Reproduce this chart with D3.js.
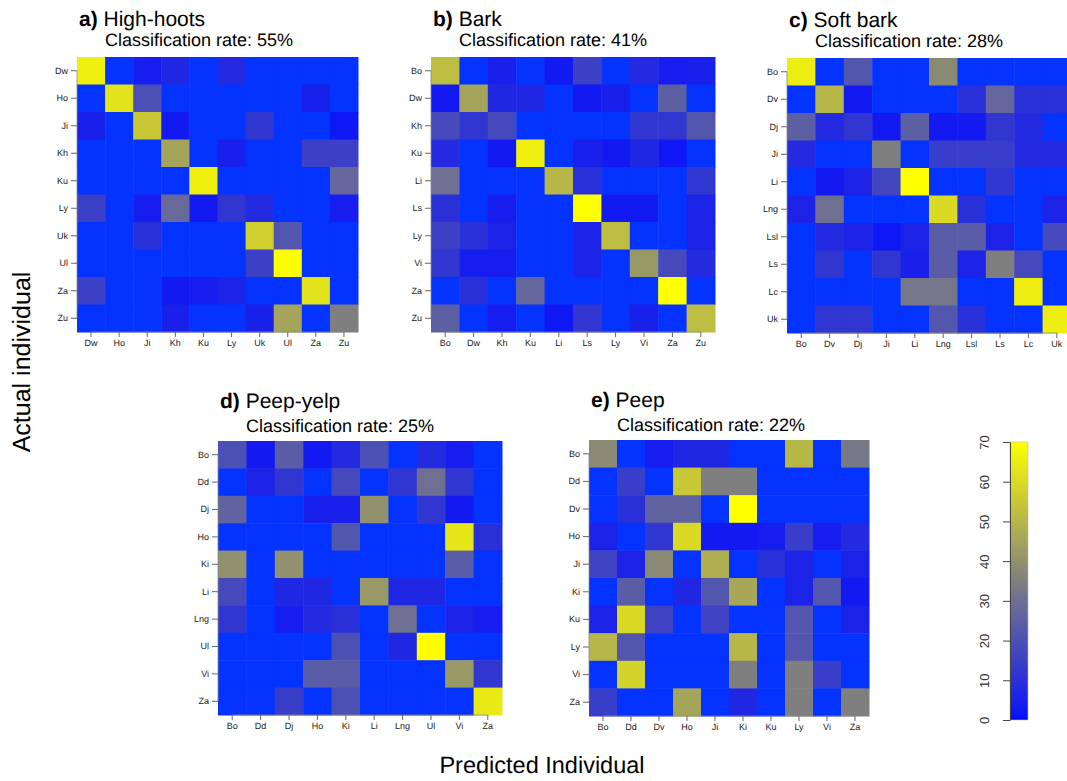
<!DOCTYPE html>
<html>
<head>
<meta charset="utf-8">
<script src="https://cdn.jsdelivr.net/npm/d3@7"></script>
<style>
  html, body { margin: 0; padding: 0; background: #fff; }
  svg { display: block; font-family: "Liberation Sans", Arial, Helvetica, sans-serif; }
  text { text-rendering: geometricPrecision; }
</style>
</head>
<body>
<svg id="chart" width="1067" height="781"></svg>
<script>
// ---------------- DATA ----------------
const colorTicks = [0, 10, 20, 30, 40, 50, 60, 70];

const labelsA = ["Dw","Ho","Ji","Kh","Ku","Ly","Uk","Ul","Za","Zu"];
const valuesA = [
  [66, 0, 4, 7, 0, 8, 0, 0, 0, 0],
  [0, 62, 20, 0, 0, 0, 0, 0, 5, 0],
  [5, 0, 55, 3, 0, 0, 12, 0, 0, 2],
  [0, 0, 0, 45, 0, 5, 0, 0, 15, 15],
  [0, 0, 0, 0, 66, 0, 0, 0, 0, 27],
  [15, 0, 4, 28, 3, 12, 8, 0, 0, 4],
  [0, 0, 10, 0, 0, 0, 57, 22, 0, 0],
  [0, 0, 0, 0, 0, 0, 15, 70, 0, 0],
  [15, 0, 0, 3, 4, 6, 0, 0, 62, 0],
  [0, 0, 0, 5, 0, 0, 5, 45, 0, 35]
];

const labelsB = ["Bo","Dw","Kh","Ku","Li","Ls","Ly","Vi","Za","Zu"];
const valuesB = [
  [52, 0, 5, 0, 3, 15, 0, 8, 4, 5],
  [3, 45, 7, 7, 0, 3, 5, 0, 25, 0],
  [18, 12, 18, 0, 0, 0, 0, 12, 12, 22],
  [8, 0, 3, 66, 0, 5, 3, 7, 2, 0],
  [30, 0, 0, 0, 50, 10, 0, 0, 0, 12],
  [10, 0, 4, 0, 0, 70, 3, 3, 0, 6],
  [15, 10, 6, 0, 0, 6, 52, 0, 0, 6],
  [12, 4, 4, 0, 0, 6, 0, 42, 18, 8],
  [0, 10, 0, 27, 0, 0, 0, 0, 70, 0],
  [25, 0, 4, 0, 2, 12, 0, 5, 0, 52]
];

const labelsC = ["Bo","Dv","Dj","Ji","Li","Lng","Lsl","Ls","Lc","Uk"];
const valuesC = [
  [65, 0, 22, 0, 0, 38, 0, 0, 0, 0],
  [0, 50, 3, 0, 0, 0, 10, 27, 10, 10],
  [25, 8, 12, 3, 25, 3, 3, 12, 8, 0],
  [8, 0, 0, 35, 0, 14, 14, 14, 8, 8],
  [0, 3, 6, 17, 70, 0, 0, 12, 0, 0],
  [6, 30, 0, 0, 0, 60, 10, 0, 0, 6],
  [0, 8, 6, 2, 6, 24, 24, 6, 0, 18],
  [0, 12, 0, 12, 5, 24, 6, 35, 18, 0],
  [0, 0, 0, 0, 32, 32, 0, 0, 65, 0],
  [0, 12, 12, 0, 0, 22, 10, 0, 0, 65]
];

const labelsD = ["Bo","Dd","Dj","Ho","Ki","Li","Lng","Ul","Vi","Za"];
const valuesD = [
  [20, 3, 24, 3, 8, 20, 0, 8, 4, 0],
  [0, 6, 12, 0, 18, 0, 12, 30, 12, 0],
  [26, 0, 0, 5, 5, 40, 0, 12, 3, 0],
  [0, 0, 0, 0, 22, 0, 0, 0, 63, 10],
  [40, 0, 40, 0, 0, 0, 0, 0, 24, 0],
  [18, 0, 7, 7, 0, 42, 7, 7, 0, 0],
  [12, 0, 4, 8, 10, 0, 30, 0, 6, 4],
  [0, 0, 0, 0, 20, 0, 7, 70, 0, 0],
  [0, 0, 0, 24, 24, 0, 0, 0, 42, 12],
  [0, 0, 14, 0, 20, 0, 0, 0, 0, 64]
];

const labelsE = ["Bo","Dd","Dv","Ho","Ji","Ki","Ku","Ly","Vi","Za"];
const valuesE = [
  [38, 0, 4, 7, 7, 0, 0, 50, 0, 33],
  [0, 14, 0, 55, 35, 35, 0, 0, 0, 0],
  [0, 10, 26, 26, 0, 70, 0, 0, 0, 0],
  [6, 0, 12, 60, 3, 3, 4, 14, 4, 8],
  [16, 6, 38, 0, 48, 0, 10, 6, 0, 6],
  [0, 24, 0, 7, 22, 46, 0, 6, 22, 3],
  [6, 60, 16, 0, 16, 0, 0, 22, 0, 6],
  [50, 22, 0, 0, 0, 50, 0, 22, 0, 0],
  [0, 58, 0, 0, 0, 35, 0, 35, 14, 0],
  [14, 0, 0, 45, 0, 7, 0, 35, 0, 35]
];

const panelLetters = ["a)", "b)", "c)", "d)", "e)"];
const panelNames = ["High-hoots", "Bark", "Soft bark", "Peep-yelp", "Peep"];
const panelRates = ["55%", "41%", "28%", "25%", "22%"];

// ---------------- LAYOUT ----------------
const layout = [
  { x: 77,  y: 57,  w: 281, h: 275, tDy: -31, sDy: -11 },
  { x: 431, y: 57,  w: 284, h: 275, tDy: -31, sDy: -11 },
  { x: 787, y: 58,  w: 284, h: 275, tDy: -31, sDy: -11 },
  { x: 218, y: 441, w: 284, h: 274, tDy: -33, sDy: -9 },
  { x: 589, y: 440, w: 280, h: 276, tDy: -33, sDy: -9 }
];
const panelLabels = [labelsA, labelsB, labelsC, labelsD, labelsE];
const panelValues = [valuesA, valuesB, valuesC, valuesD, valuesE];

const svg = d3.select("#chart");

const color = d3.scaleLinear()
  .domain([0, 0.5, 35, 70])
  .range(["#0433ff", "#0a12fa", "#7f7f7f", "#ffff00"])
  .interpolate(d3.interpolateRgb)
  .clamp(true);

panelValues.forEach((vals, i) => {
  const L = layout[i];
  const labels = panelLabels[i];
  const g = svg.append("g").attr("transform", `translate(${L.x},${L.y})`);

  const x = d3.scaleBand().domain(labels).range([0, L.w]).padding(0);
  const y = d3.scaleBand().domain(labels).range([0, L.h]).padding(0);

  const cells = [];
  vals.forEach((row, r) => row.forEach((v, c) => cells.push({ r: labels[r], c: labels[c], v })));

  g.selectAll("rect.cell").data(cells).join("rect")
    .attr("class", "cell")
    .attr("x", d => x(d.c))
    .attr("y", d => y(d.r))
    .attr("width", x.bandwidth() + 0.5)
    .attr("height", y.bandwidth() + 0.5)
    .attr("fill", d => color(d.v));

  // axes
  const ax = g.append("g").attr("transform", `translate(0,${L.h})`)
    .call(d3.axisBottom(x).tickSize(5).tickPadding(3));
  const ay = g.append("g")
    .call(d3.axisLeft(y).tickSize(6).tickPadding(3));
  [ax, ay].forEach(a => {
    a.select(".domain").remove();
    a.selectAll("line").attr("stroke", "#666");
    a.selectAll("text").attr("font-size", 9).style("fill", "#222")
      .attr("font-family", "'Liberation Sans', Arial, sans-serif");
  });
  const first = x(labels[0]) + x.bandwidth() / 2;
  const last = x(labels[labels.length - 1]) + x.bandwidth() / 2;
  ax.append("line").attr("x1", first).attr("x2", last).attr("y1", 0).attr("y2", 0)
    .attr("stroke", "#888").attr("stroke-width", 0.8);
  const fy = y(labels[0]) + y.bandwidth() / 2;
  const ly = y(labels[labels.length - 1]) + y.bandwidth() / 2;
  ay.append("line").attr("x1", 0).attr("x2", 0).attr("y1", fy).attr("y2", ly)
    .attr("stroke", "#888").attr("stroke-width", 0.8);

  // titles
  const t = g.append("text").attr("x", 2).attr("y", L.tDy)
    .attr("font-size", 21).attr("fill", "#000");
  t.append("tspan").attr("font-weight", "bold").text(panelLetters[i]);
  t.append("tspan").text(" " + panelNames[i]);
  g.append("text").attr("x", 28).attr("y", L.sDy)
    .attr("font-size", 18).attr("fill", "#000")
    .text("Classification rate: " + panelRates[i]);
});

// ---------------- COLOR BAR ----------------
const cb = { x: 1010, w: 18, top: 442, bottom: 720 };
const cy = d3.scaleLinear().domain([0, 70]).range([cb.bottom, cb.top]);
const defs = svg.append("defs");
const grad = defs.append("linearGradient").attr("id", "cbgrad")
  .attr("x1", 0).attr("y1", 1).attr("x2", 0).attr("y2", 0);
d3.range(0, 71, 1).forEach(v => {
  grad.append("stop").attr("offset", v / 70).attr("stop-color", v === 0 ? "#0000ff" : color(v));
});
svg.append("rect")
  .attr("x", cb.x).attr("y", cy(70)).attr("width", cb.w).attr("height", cy(0) - cy(70))
  .attr("fill", "url(#cbgrad)").attr("stroke", "#bbb").attr("stroke-width", 0.6);
const cax = svg.append("g").attr("transform", `translate(${cb.x},0)`)
  .call(d3.axisLeft(cy).tickValues(colorTicks).tickSize(7).tickPadding(0).tickSizeOuter(0));
cax.select(".domain").attr("stroke", "#444");
cax.selectAll("line").attr("stroke", "#444");
cax.selectAll("text").remove();
cax.selectAll(".tick").append("text")
  .attr("transform", "translate(-26,0) rotate(-90)")
  .attr("text-anchor", "middle")
  .attr("dy", "0.35em")
  .attr("font-size", 13)
  .style("fill", "#333")
  .text(d => d);

// ---------------- AXIS TITLES ----------------
svg.append("text")
  .attr("transform", "translate(30,362) rotate(-90)")
  .attr("text-anchor", "middle")
  .attr("font-size", 25)
  .attr("fill", "#000")
  .text("Actual individual");
svg.append("text")
  .attr("x", 542).attr("y", 773)
  .attr("text-anchor", "middle")
  .attr("font-size", 23.5)
  .attr("fill", "#000")
  .text("Predicted Individual");
</script>
</body>
</html>
